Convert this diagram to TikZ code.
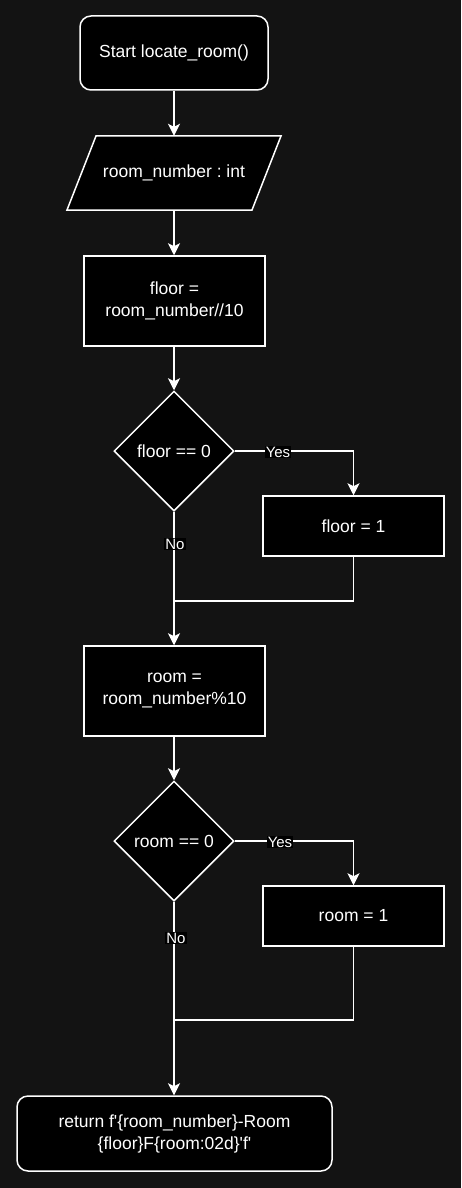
\documentclass[tikz,border=0pt]{standalone}
\usepackage{fontspec}
\setmainfont{Liberation Sans}[Ligatures=TeXOff]
\usetikzlibrary{shapes.geometric,arrows.meta}
\definecolor{bgc}{RGB}{19,19,19}
\frenchspacing
\tikzset{
  base/.style={draw=white, fill=black, line width=1.5pt, text=white, font=\fontsize{17.5}{22}\selectfont, align=center, inner sep=0pt},
  procbox/.style={base, minimum width=181pt, minimum height=90pt},
  smallbox/.style={base, minimum width=181pt, minimum height=60pt},
  termbox/.style={base, rounded corners=11pt},
  decbox/.style={base, shape=diamond, aspect=1, minimum width=120pt, minimum height=120pt},
  conn/.style={draw=white, line width=1.5pt},
  arr/.style={conn, -{Stealth[length=12pt,width=12pt,inset=3pt]}},
  lbl/.style={fill=black, text=white, font=\fontsize{15}{18}\selectfont, inner sep=1pt}
}
\begin{document}
\begin{tikzpicture}[x=1pt,y=-1pt]
\fill[bgc] (0,0) rectangle (461,1188);
\useasboundingbox (0,0) rectangle (461,1188);

\node[termbox, minimum width=188pt, minimum height=74pt] (start) at (174,53) {Start locate\_room()};

\draw[base] (96,136) -- (281,136) -- (252,210) -- (67,210) -- cycle;
\node[text=white, font=\fontsize{17.5}{22}\selectfont, minimum width=185pt, minimum height=74pt, inner sep=0pt] (input) at (174,173) {room\_number : int};

\node[procbox] (fcalc) at (174.5,301) {floor =\\room\_number//10};
\node[decbox] (fdec) at (174,451) {floor == 0};
\node[smallbox] (fset) at (353.5,526) {floor = 1};
\coordinate (fmerge) at (174,601);

\node[procbox] (rcalc) at (174.5,691) {room =\\room\_number\%10};
\node[decbox] (rdec) at (174,841) {room == 0};
\node[smallbox] (rset) at (353.5,916) {room = 1};
\coordinate (rmerge) at (174,1020);

\node[termbox, minimum width=315pt, minimum height=75pt] (ret) at (174.5,1133.5) {return f'\{room\_number\}-Room\\\{floor\}F\{room:02d\}'f'};

\draw[arr] (start.south -| input) -- (input.north);
\draw[arr] (input.south) -- (input.south |- fcalc.north);
\draw[arr] (fcalc.south -| fdec) -- (fdec.north);
\draw[arr] (fdec.east) -| (fset.north);
\node[lbl] at (278,452) {Yes};
\draw[arr] (fdec.south) -- (fdec.south |- rcalc.north);
\node[lbl] at (175,544) {No};
\draw[conn] (fset.south) |- (fmerge);

\draw[arr] (rcalc.south -| rdec) -- (rdec.north);
\draw[arr] (rdec.east) -| (rset.north);
\node[lbl] at (280,842) {Yes};
\draw[arr] (rdec.south) -- (rdec.south |- ret.north);
\node[lbl] at (176,938) {No};
\draw[conn] (rset.south) |- (rmerge);
\end{tikzpicture}
\end{document}
